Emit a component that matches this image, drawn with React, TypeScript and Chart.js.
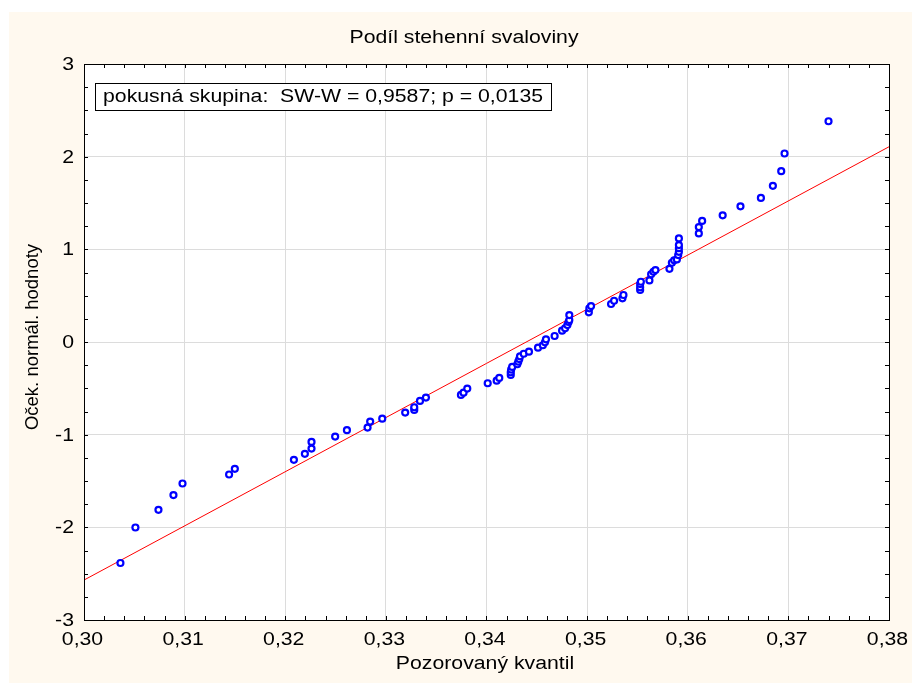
import React, { useEffect, useRef } from "react";
import { Chart, registerables } from "chart.js";
Chart.register(...registerables);

const chartTitle = "Podíl stehenní svaloviny";
const xAxisTitle = "Pozorovaný kvantil";
const yAxisTitle = "Oček. normál. hodnoty";
const legendText = "pokusná skupina:  SW-W = 0,9587; p = 0,0135";

const observedQuantile = [
  0.30362, 0.30511, 0.3074, 0.30889, 0.30979, 0.31442, 0.31499, 0.32086, 0.32195, 0.32261,
  0.32261, 0.32496, 0.32613, 0.32818, 0.32844, 0.32964, 0.33192, 0.33282, 0.33282, 0.33339,
  0.33398, 0.33746, 0.33772, 0.33809, 0.34012, 0.34101, 0.34127, 0.34241, 0.34241, 0.34245,
  0.34255, 0.34306, 0.34316, 0.34326, 0.34333, 0.3437, 0.34422, 0.34512, 0.3456, 0.34581,
  0.34591, 0.34677, 0.34751, 0.34781, 0.34804, 0.34816, 0.34823, 0.34823, 0.35017, 0.35022,
  0.35039, 0.35238, 0.35268, 0.35351, 0.35361, 0.35527, 0.35527, 0.35527, 0.35534, 0.35619,
  0.35636, 0.35659, 0.35679, 0.35818, 0.35842, 0.35865, 0.35892, 0.35905, 0.35912, 0.35912,
  0.35912, 0.35912, 0.3611, 0.3611, 0.36143, 0.36347, 0.36524, 0.36727, 0.36846, 0.36929,
  0.36962, 0.37399,
];
const expectedNormal = [
  -2.385, -2.002, -1.811, -1.652, -1.527, -1.43, -1.369, -1.272, -1.207, -1.15,
  -1.078, -1.021, -0.952, -0.924, -0.859, -0.827, -0.762, -0.733, -0.704, -0.636,
  -0.6, -0.571, -0.547, -0.503, -0.445, -0.417, -0.388, -0.356, -0.327, -0.298,
  -0.269, -0.24, -0.212, -0.184, -0.155, -0.127, -0.104, -0.061, -0.035, -0.003,
  0.029, 0.065, 0.122, 0.148, 0.183, 0.216, 0.237, 0.291, 0.32, 0.363,
  0.388, 0.41, 0.445, 0.471, 0.507, 0.561, 0.59, 0.625, 0.65, 0.665,
  0.73, 0.758, 0.776, 0.79, 0.855, 0.881, 0.891, 0.938, 0.973, 1.013,
  1.046, 1.118, 1.172, 1.24, 1.307, 1.367, 1.464, 1.555, 1.685, 1.843,
  2.034, 2.382,
];
const fitLineX = [0.3, 0.38];
const fitLineY = [-2.569, 2.107];

const xMin = 0.3;
const xMax = 0.38;
const xStep = 0.01;
const xMinorStep = 0.002;
const yMin = -3;
const yMax = 3;
const yStep = 1;
const yMinorStep = 0.25;

const FONT = "'Liberation Sans', Arial, Helvetica, sans-serif";
const FONT_SIZE = 18;
const STRETCH = 1.18;
const CREAM = "#fff9ef";

function drawText(ctx: any, text: string, x: number, y: number, align: string, rotate = 0, stretch = STRETCH) {
  ctx.save();
  ctx.translate(x, y);
  if (rotate) ctx.rotate(rotate);
  ctx.scale(stretch, 1);
  ctx.textAlign = align;
  ctx.textBaseline = "middle";
  ctx.fillText(text, 0, 0);
  ctx.restore();
}

const decorPlugin = {
  id: "decor",
  beforeDraw(chart: any) {
    const { ctx, width, height, chartArea } = chart;
    ctx.save();
    ctx.fillStyle = "#ffffff";
    ctx.fillRect(0, 0, width, height);
    ctx.fillStyle = CREAM;
    ctx.fillRect(9, 12, width - 9, height - 12);
    ctx.fillStyle = "#ffffff";
    ctx.fillRect(chartArea.left, chartArea.top, chartArea.right - chartArea.left, chartArea.bottom - chartArea.top);
    ctx.restore();
  },
  afterDraw(chart: any) {
    const { ctx, chartArea } = chart;
    const { left, right, top, bottom } = chartArea;
    const xs = chart.scales.x;
    const ys = chart.scales.y;
    ctx.save();
    ctx.strokeStyle = "#000000";
    ctx.lineWidth = 1;
    ctx.beginPath();
    const nx = Math.round((xMax - xMin) / xMinorStep);
    for (let i = 1; i < nx; i++) {
      const px = Math.round(xs.getPixelForValue(xMin + i * xMinorStep)) + 0.5;
      ctx.moveTo(px, bottom);
      ctx.lineTo(px, bottom - 4);
      ctx.moveTo(px, top);
      ctx.lineTo(px, top + 4);
    }
    const ny = Math.round((yMax - yMin) / yMinorStep);
    for (let i = 1; i < ny; i++) {
      const py = Math.round(ys.getPixelForValue(yMin + i * yMinorStep)) + 0.5;
      ctx.moveTo(left, py);
      ctx.lineTo(left + 4, py);
      ctx.moveTo(right, py);
      ctx.lineTo(right - 4, py);
    }
    ctx.stroke();
    ctx.strokeRect(Math.round(left) + 0.5, Math.round(top) + 0.5, Math.round(right - left), Math.round(bottom - top));

    ctx.font = `${FONT_SIZE}px ${FONT}`;
    ctx.fillStyle = "#000000";

    // tick labels
    const nxMajor = Math.round((xMax - xMin) / xStep);
    for (let i = 0; i <= nxMajor; i++) {
      const v = xMin + i * xStep;
      drawText(ctx, v.toFixed(2).replace(".", ","), xs.getPixelForValue(v) - 1.5, 640, "center");
    }
    const nyMajor = Math.round((yMax - yMin) / yStep);
    for (let i = 0; i <= nyMajor; i++) {
      const v = yMin + i * yStep;
      drawText(ctx, String(v), 74, ys.getPixelForValue(v) + 1, "right");
    }

    // legend box
    ctx.fillStyle = "#ffffff";
    ctx.fillRect(95.5, 83.5, 456, 27);
    ctx.strokeRect(95.5, 83.5, 456, 27);
    ctx.fillStyle = "#000000";
    drawText(ctx, legendText, 103, 97.5, "left");

    // titles
    drawText(ctx, chartTitle, 464, 38, "center");
    drawText(ctx, xAxisTitle, 485, 664, "center");
    ctx.font = `18.5px ${FONT}`;
    drawText(ctx, yAxisTitle, 33, 337, "center", -Math.PI / 2, 1);
    ctx.restore();
  },
};

export default function App() {
  const ref = useRef<HTMLCanvasElement | null>(null);
  useEffect(() => {
    document.body.style.margin = "0";
    const canvas = ref.current!;
    const points = observedQuantile.map((x, i) => ({ x, y: expectedNormal[i] }));
    const line = fitLineX.map((x, i) => ({ x, y: fitLineY[i] }));
    const chart = new Chart(canvas, {
      type: "scatter",
      data: {
        datasets: [
          {
            type: "line",
            data: line,
            borderColor: "#ff0000",
            borderWidth: 1,
            pointRadius: 0,
            fill: false,
            order: 2,
          } as any,
          {
            data: points,
            pointStyle: "circle",
            pointRadius: 3,
            borderWidth: 2.2,
            borderColor: "#0000ff",
            backgroundColor: "#ffffff",
            order: 1,
          },
        ],
      },
      options: {
        responsive: false,
        animation: false,
        events: [],
        layout: { padding: { left: 0, top: 64, right: 23, bottom: 0 } },
        plugins: { legend: { display: false }, title: { display: false }, tooltip: { enabled: false } },
        scales: {
          x: {
            type: "linear",
            min: xMin,
            max: xMax,
            afterFit: (s: any) => {
              s.height = 63;
            },
            afterBuildTicks: (s: any) => {
              const t = [];
              const n = Math.round((xMax - xMin) / xStep);
              for (let i = 0; i <= n; i++) t.push({ value: xMin + i * xStep });
              s.ticks = t;
            },
            ticks: { display: false },
            grid: { color: "#dcdcdc", lineWidth: 1, drawTicks: false },
            border: { display: false },
          },
          y: {
            type: "linear",
            min: yMin,
            max: yMax,
            afterFit: (s: any) => {
              s.width = 84;
            },
            ticks: { display: false, stepSize: yStep },
            grid: { color: "#dcdcdc", lineWidth: 1, drawTicks: false },
            border: { display: false },
          },
        },
      },
      plugins: [decorPlugin],
    } as any);
    return () => chart.destroy();
  }, []);
  return <canvas ref={ref} width={912} height={683} style={{ display: "block", width: 912, height: 683 }} />;
}
